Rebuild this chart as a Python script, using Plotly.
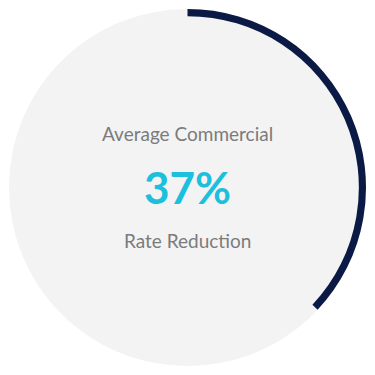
import plotly.graph_objects as go

labels = ["Reduction", "Remainder"]
values = [37, 63]
headline = "37%"
top_text = "Average Commercial"
bottom_text = "Rate Reduction"

W = H = 375
d0, d1 = 9 / W, 366 / W

fig = go.Figure()
fig.add_trace(go.Pie(
    values=[1], labels=["bg"], marker=dict(colors=["#f3f3f3"], line=dict(width=0)),
    textinfo="none", hoverinfo="skip", sort=False, showlegend=False,
    domain=dict(x=[d0, d1], y=[d0, d1]),
))
fig.add_trace(go.Pie(
    values=values, labels=labels, hole=0.96, sort=False, direction="clockwise",
    marker=dict(colors=["#0b1a45", "rgba(0,0,0,0)"], line=dict(width=0)),
    textinfo="none", hoverinfo="skip", showlegend=False,
    domain=dict(x=[d0, d1], y=[d0, d1]),
))

font_family = "Lato, 'Open Sans', sans-serif"
fig.add_annotation(text=top_text, x=0.5, y=1 - 134 / H, xref="paper", yref="paper",
                   showarrow=False, font=dict(family=font_family, size=19, color="#7b7b7b"))
fig.add_annotation(text="<b>" + headline + "</b>", x=0.5, y=1 - 187 / H, xref="paper", yref="paper",
                   showarrow=False, font=dict(family=font_family, size=44, color="#1cbfdc"))
fig.add_annotation(text=bottom_text, x=0.5, y=1 - 240 / H, xref="paper", yref="paper",
                   showarrow=False, font=dict(family=font_family, size=19, color="#7b7b7b"))

fig.update_layout(width=W, height=H, margin=dict(l=0, r=0, t=0, b=0),
                  paper_bgcolor="white", plot_bgcolor="white")
fig.write_html("out.html")
